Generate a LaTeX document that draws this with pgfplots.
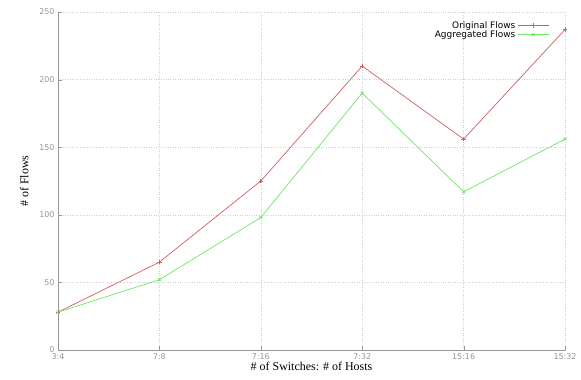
\documentclass[border=0pt]{standalone}
\usepackage{pgfplots}
\pgfplotsset{compat=1.18}
\usepackage{fontspec}
\setmainfont{Liberation Serif}
\newfontfamily\tickfont{DejaVu Sans}
\definecolor{origc}{RGB}{205,95,95}
\definecolor{aggc}{RGB}{110,230,100}
\definecolor{axgray}{RGB}{150,150,150}
\begin{document}
\begin{tikzpicture}[x=1bp,y=1bp]
\useasboundingbox (0,0) rectangle (581,379);
\begin{axis}[
  at={(58bp,29bp)}, anchor=south west,
  scale only axis, width=507bp, height=338bp,
  xmin=0, xmax=5, ymin=0, ymax=250,
  xtick={0,1,2,3,4,5},
  xticklabels={3:4,7:8,7:16,7:32,15:16,15:32},
  ytick={0,50,100,150,200,250},
  axis x line*=bottom, axis y line*=left,
  axis line style={axgray, line width=0.8pt},
  tick style={axgray},
  major tick length=4bp,
  grid=major,
  grid style={dotted, axgray!45, line width=0.5pt},
  ticklabel style={font=\tickfont\fontsize{8}{9}\selectfont, text=axgray},
  /pgf/number format/assume math mode=true,
  xlabel={\# of Switches: \# of Hosts},
  ylabel={\# of Flows},
  label style={font=\fontsize{12}{13}\selectfont},
  xlabel style={at={(axis description cs:0.5,0)}, anchor=north, yshift=-9bp},
  ylabel style={at={(axis description cs:0,0.5)}, anchor=south, yshift=26bp},
  legend style={draw=none, fill=none, at={(0.975,0.985)}, anchor=north east,
    font=\tickfont\fontsize{9}{10}\selectfont, legend cell align=right,
    row sep=-3pt},
  legend image code/.code={\draw[#1] (0cm,0cm) -- (1.1cm,0cm); \draw[#1, mark repeat=1] plot coordinates {(0.55cm,0cm)};},
  legend plot pos=right,
  clip=false,
]
\addplot[origc, line width=0.7pt, mark=+, mark size=2.2pt] coordinates {
 (0,28) (1,65) (2,125) (3,210) (4,156) (5,237)};
\addlegendentry{Original Flows}
\addplot[aggc, line width=0.7pt, mark=x, mark size=2.2pt] coordinates {
 (0,28) (1,52) (2,98) (3,190) (4,117) (5,156)};
\addlegendentry{Aggregated Flows}
\end{axis}
\end{tikzpicture}
\end{document}
